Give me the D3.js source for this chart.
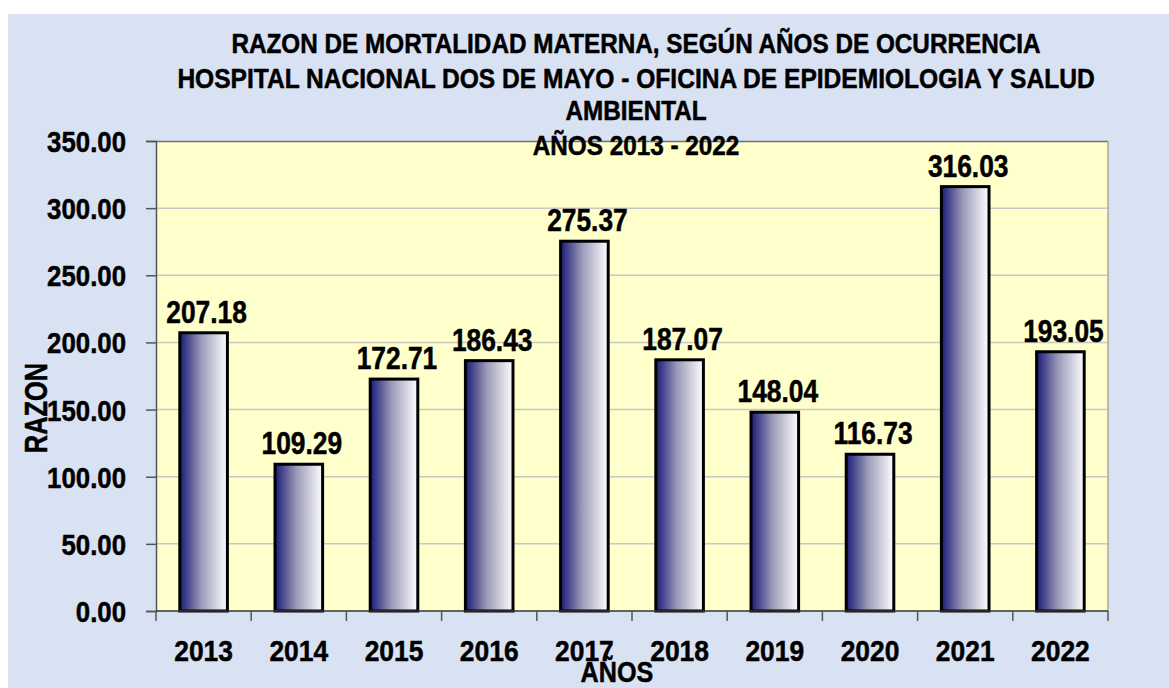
<!DOCTYPE html>
<html>
<head>
<meta charset="utf-8">
<script src="https://cdn.jsdelivr.net/npm/d3@7"></script>
<style>
  html, body { margin: 0; padding: 0; background: #ffffff; }
  svg { display: block; }
  text { font-family: "Liberation Sans Narrow", "Arial Narrow", "Liberation Sans", Arial, sans-serif; font-weight: bold; fill: #000; stroke: #000; stroke-width: 0.5px; }
</style>
</head>
<body>
<svg id="chart" width="1169" height="688"></svg>
<script>
const years = ["2013","2014","2015","2016","2017","2018","2019","2020","2021","2022"];
const values = [207.18, 109.29, 172.71, 186.43, 275.37, 187.07, 148.04, 116.73, 316.03, 193.05];
const yTicks = [0, 50, 100, 150, 200, 250, 300, 350];
const titleLines = [
  "RAZON DE MORTALIDAD MATERNA, SEGÚN AÑOS DE OCURRENCIA",
  "HOSPITAL NACIONAL DOS DE MAYO - OFICINA DE EPIDEMIOLOGIA Y SALUD",
  "AMBIENTAL",
  "AÑOS 2013 - 2022"
];
const xTitle = "AÑOS";
const yTitle = "RAZON";

const W = 1169, H = 688;
const plot = { left: 156, top: 141, right: 1108, bottom: 611 };

const svg = d3.select("#chart");

// horizontal condensing of text (narrow bold look)
function condense(sel, k) {
  sel.each(function () {
    const t = d3.select(this);
    const xv = +t.attr("x") || 0;
    const tr = t.attr("transform") || "";
    t.attr("x", xv / k).attr("transform", (tr + ` scale(${k},1)`).trim());
  });
}

// gradient
const defs = svg.append("defs");
const grad = defs.append("linearGradient").attr("id", "barGrad")
  .attr("x1", "0%").attr("x2", "100%").attr("y1", "0%").attr("y2", "0%");
grad.append("stop").attr("offset", "0%").attr("stop-color", "#1a1a78");
grad.append("stop").attr("offset", "45%").attr("stop-color", "#9a9ab8");
grad.append("stop").attr("offset", "100%").attr("stop-color", "#ffffff");

// outer background
svg.append("rect").attr("x", 8).attr("y", 14).attr("width", W - 8).attr("height", H - 14)
  .attr("fill", "#d9e2f3");

const x = d3.scaleBand().domain(years).range([plot.left, plot.right])
  .paddingInner(0.5).paddingOuter(0.25);
const y = d3.scaleLinear().domain([0, 350]).range([plot.bottom, plot.top]);

// plot area
svg.append("rect").attr("x", plot.left).attr("y", plot.top)
  .attr("width", plot.right - plot.left).attr("height", plot.bottom - plot.top)
  .attr("fill", "#ffffcc");

// gridlines
svg.append("g").selectAll("line").data(yTicks.filter(d => d > 0 && d < 350)).join("line")
  .attr("x1", plot.left).attr("x2", plot.right)
  .attr("y1", d => y(d)).attr("y2", d => y(d))
  .attr("stroke", "#c8c8c8").attr("stroke-width", 1.5);

// plot border top / right
svg.append("line").attr("x1", plot.left).attr("x2", plot.right).attr("y1", plot.top + 0.5).attr("y2", plot.top + 0.5)
  .attr("stroke", "#707070").attr("stroke-width", 1.5);
svg.append("line").attr("x1", plot.right).attr("x2", plot.right).attr("y1", plot.top).attr("y2", plot.bottom)
  .attr("stroke", "#a8a8a0").attr("stroke-width", 1.5);

// bars
svg.append("g").selectAll("rect").data(values).join("rect")
  .attr("x", (d, i) => x(years[i]))
  .attr("y", d => y(d))
  .attr("width", x.bandwidth())
  .attr("height", d => y(0) - y(d))
  .attr("fill", "url(#barGrad)")
  .attr("stroke", "#000").attr("stroke-width", 3);

// value labels
const vLabels = svg.append("g").selectAll("text").data(values).join("text")
  .attr("x", (d, i) => x(years[i]) + x.bandwidth() / 2 + 3)
  .attr("y", d => y(d) - 10)
  .attr("text-anchor", "middle")
  .style("font-size", "31px")
  .text(d => d3.format(".2f")(d));
vLabels.each(function () {
  const t = d3.select(this);
  const xv = +t.attr("x"), yv = +t.attr("y");
  t.attr("x", 0).attr("y", 0).attr("transform", `translate(${xv},${yv}) scale(0.85,1)`);
});

// y axis
const yAxis = svg.append("g").attr("transform", `translate(${plot.left},0)`)
  .call(d3.axisLeft(y).tickValues(yTicks).tickFormat(d3.format(".2f")).tickSize(10).tickPadding(20));
yAxis.attr("font-family", null).attr("font-size", null);
yAxis.select(".domain").attr("stroke", "#555").attr("stroke-width", 1.5);
yAxis.selectAll(".tick line").attr("stroke", "#555").attr("stroke-width", 1.5);
yAxis.selectAll(".tick text").style("font-size", "30px").attr("dy", "0.35em");
condense(yAxis.selectAll(".tick text"), 0.86);

// x axis: labels
const xAxis = svg.append("g").attr("transform", `translate(0,${plot.bottom})`)
  .call(d3.axisBottom(x).tickSize(0).tickPadding(29));
xAxis.select(".domain").remove();
xAxis.attr("font-family", null).attr("font-size", null);
xAxis.selectAll(".tick text").style("font-size", "30px");
condense(xAxis.selectAll(".tick text"), 0.88);

// x axis line + ticks at band boundaries
const step = x.step();
const boundaries = years.map(d => x(d) - (step - x.bandwidth()) / 2).concat([plot.right]);
svg.append("line").attr("x1", plot.left).attr("x2", plot.right).attr("y1", plot.bottom).attr("y2", plot.bottom)
  .attr("stroke", "#333").attr("stroke-width", 1.5);
svg.append("g").selectAll("line").data(boundaries).join("line")
  .attr("x1", d => d).attr("x2", d => d)
  .attr("y1", plot.bottom).attr("y2", plot.bottom + 10)
  .attr("stroke", "#555").attr("stroke-width", 1.5);

// title
const titleBase = [53, 88, 120, 155];
svg.append("g").selectAll("text").data(titleLines).join("text")
  .attr("text-anchor", "middle")
  .attr("transform", (d, i) => `translate(636,${titleBase[i]}) scale(${i === 1 ? 0.91 : 0.9},1)`)
  .style("font-size", "27px")
  .text(d => d);

// axis titles
svg.append("text").attr("transform", "translate(617,682) scale(0.84,1)").attr("text-anchor", "middle")
  .style("font-size", "30px").text(xTitle);
svg.append("text").attr("transform", "translate(47,408) rotate(-90) scale(0.82,1)").attr("text-anchor", "middle")
  .style("font-size", "31px").text(yTitle);
</script>
</body>
</html>
